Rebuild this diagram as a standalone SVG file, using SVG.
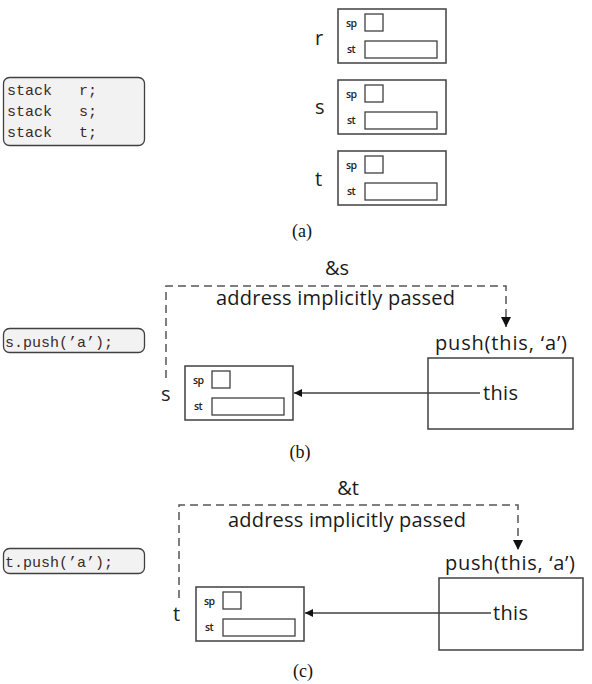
<svg xmlns="http://www.w3.org/2000/svg" width="592" height="684" viewBox="0 0 592 684">
  <style>
    .code-box { fill: #f2f2f2; stroke: #404040; stroke-width: 1.3; }
    .code { font-family: "Liberation Mono", monospace; font-size: 15px; fill: #3a2a2a; white-space: pre; }
    .frame { fill: #ffffff; stroke: #404040; stroke-width: 1.5; }
    .cell { fill: #ffffff; stroke: #404040; stroke-width: 1.3; }
    .tiny { font-family: "Open Sans", "Noto Sans", sans-serif; font-size: 10.5px; font-weight: 600; letter-spacing: -0.6px; fill: #222; }
    .name { font-family: "Open Sans", "Noto Sans", sans-serif; font-size: 20px; fill: #222; }
    .lbl { font-family: "Open Sans", "Noto Sans", sans-serif; font-size: 20px; fill: #1a1a1a; }
    .cap { font-family: "Liberation Serif", serif; font-size: 18px; fill: #111; text-anchor: middle; }
    .dash { fill: none; stroke: #555; stroke-width: 1.5; stroke-dasharray: 8 5; }
    .solid { fill: none; stroke: #404040; stroke-width: 1.5; }
  </style>
  <defs>
    <marker id="headBig" viewBox="0 0 10 10" refX="10" refY="5" markerWidth="10" markerHeight="11" markerUnits="userSpaceOnUse" orient="auto">
      <path d="M0,0 L10,5 L0,10 Z" fill="#111"/>
    </marker>
    <marker id="headSmall" viewBox="0 0 10 10" refX="10" refY="5" markerWidth="9" markerHeight="8" markerUnits="userSpaceOnUse" orient="auto">
      <path d="M0,0 L10,5 L0,10 Z" fill="#111"/>
    </marker>
    <g id="stackObj">
      <rect class="frame" x="0" y="0" width="108" height="54"/>
      <text class="tiny" x="8" y="18">sp</text>
      <rect class="cell" x="27" y="5" width="18" height="17"/>
      <text class="tiny" x="9" y="44">st</text>
      <rect class="cell" x="27" y="32" width="72" height="17"/>
    </g>
  </defs>

  <!-- (a) declarations -->
  <g id="decl">
    <rect class="code-box" x="3.5" y="77.5" width="141" height="68" rx="6"/>
    <text class="code" x="7" y="95">stack   r;</text>
    <text class="code" x="7" y="116">stack   s;</text>
    <text class="code" x="7" y="137">stack   t;</text>
  </g>
  <g id="obj-r">
    <text class="name" x="315" y="45">r</text>
    <use href="#stackObj" x="338" y="9"/>
  </g>
  <g id="obj-s">
    <text class="name" x="315" y="114">s</text>
    <use href="#stackObj" x="338" y="80"/>
  </g>
  <g id="obj-t">
    <text class="name" x="315" y="186">t</text>
    <use href="#stackObj" x="338" y="151"/>
  </g>
  <text class="cap" x="302" y="237">(a)</text>

  <!-- (b) s.push -->
  <g id="call-s">
    <rect class="code-box" x="3.5" y="328.5" width="141" height="24" rx="6"/>
    <text class="code" x="5" y="347">s.push(’a’);</text>
  </g>
  <g id="s-obj">
    <text class="name" x="161" y="401">s</text>
    <use href="#stackObj" x="185" y="366"/>
  </g>
  <g id="push-s">
    <text class="lbl" x="435" y="350" textLength="132">push(this, ‘a’)</text>
    <rect class="frame" x="428" y="358" width="145" height="71"/>
    <text class="lbl" x="483" y="400" textLength="35">this</text>
  </g>
  <text class="lbl" x="337" y="275" text-anchor="middle">&amp;s</text>
  <text class="lbl" x="216" y="305" textLength="239">address implicitly passed</text>
  <text class="cap" x="300" y="458">(b)</text>

  <!-- (c) t.push -->
  <g id="call-t">
    <rect class="code-box" x="3.5" y="548.5" width="141" height="25" rx="6"/>
    <text class="code" x="5" y="567">t.push(’a’);</text>
  </g>
  <g id="t-obj">
    <text class="name" x="173" y="621">t</text>
    <use href="#stackObj" x="196" y="587"/>
  </g>
  <g id="push-t">
    <text class="lbl" x="445" y="570" textLength="130">push(this, ‘a’)</text>
    <rect class="frame" x="439" y="578" width="144" height="72"/>
    <text class="lbl" x="493" y="620" textLength="35">this</text>
  </g>
  <text class="lbl" x="348" y="495" text-anchor="middle">&amp;t</text>
  <text class="lbl" x="228" y="527" textLength="238">address implicitly passed</text>
  <text class="cap" x="303" y="677">(c)</text>

  <!-- connectors -->
  <g id="connectors">
    <path class="dash" d="M166,378 V286 H506 V327" marker-end="url(#headBig)"/>
    <path class="solid" d="M480,393 H294" marker-end="url(#headSmall)"/>
    <path class="dash" d="M179,598 V505 H518 V550" marker-end="url(#headBig)"/>
    <path class="solid" d="M491,613 H305" marker-end="url(#headSmall)"/>
  </g>
</svg>
